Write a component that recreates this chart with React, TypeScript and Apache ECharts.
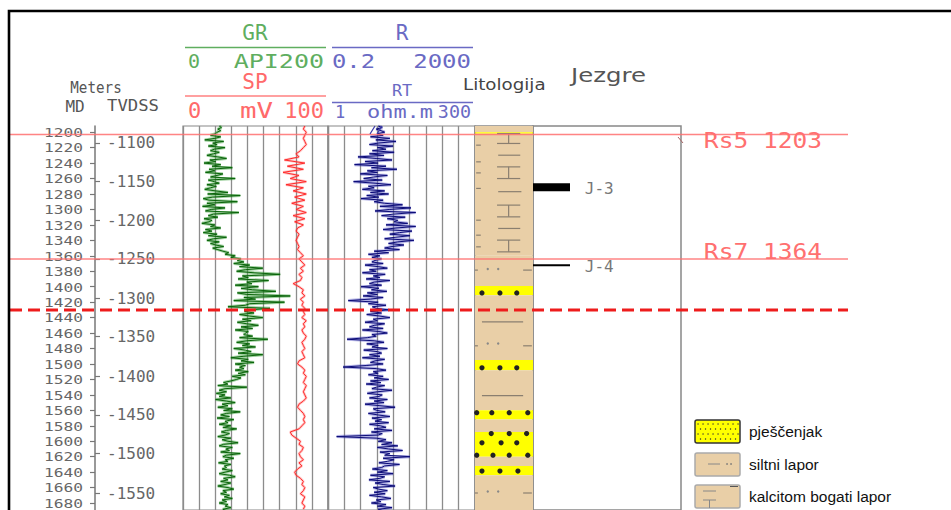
import React, { useEffect, useRef } from "react";
import * as echarts from "echarts";

// ---------- depth frame ----------
const DEPTH_MIN = 1192;
const DEPTH_MAX = 1689;

const mdTicks = [1200, 1220, 1240, 1260, 1280, 1300, 1320, 1340, 1360, 1380, 1400, 1420, 1440, 1460, 1480, 1500, 1520, 1540, 1560, 1580, 1600, 1620, 1640, 1660, 1680];
const tvdssLabels = [-1100, -1150, -1200, -1250, -1300, -1350, -1400, -1450, -1500, -1550];
const tvdssMd = [1214, 1264, 1314, 1364, 1415, 1464, 1516, 1566, 1616, 1667];

// ---------- log curves (sampled from 1192 m) ----------
const LOG_START = 1192;
const GR_STEP = 2;
const grApi = [
  50, 53, 48, 52, 47, 45,
  38, 52, 44, 30, 56, 41, 47, 35, 58, 43, 38, 50,
  42, 33, 48, 60, 37, 45, 29, 52, 40, 68, 36, 44, 31, 55, 47, 38, 72, 35, 43, 50, 33, 46,
  38, 30, 45, 62, 34, 79, 41, 28, 36, 75, 33, 44, 27, 58, 39, 31, 77, 42, 35, 48, 29, 40,
  36, 26, 44, 38, 52, 31, 40, 28, 47, 35, 60, 42, 33, 50, 38, 45, 56, 41, 48,
  55, 63, 58, 72, 66, 80, 75,
  84, 70, 92, 78, 110, 86, 74, 98, 134, 82, 90, 76, 118, 88, 95, 72, 104,
  80, 96, 128, 75, 88, 148, 84, 100, 70, 140, 92, 86, 62, 120, 90,
  85, 98, 78, 92, 110, 82, 94, 75, 88, 104, 80, 96, 72, 90, 86,
  84, 96, 78, 117, 88, 74, 92, 82, 100, 70, 86, 94, 76, 110, 84, 66, 90, 80, 98, 72, 86, 78,
  84, 72, 90, 76, 86, 68, 80, 74,
  66, 56, 62, 48, 88, 58, 50, 60, 46,
  58, 50, 66, 45, 60, 72, 54, 62, 48, 68, 56, 79, 60, 52, 64, 47, 70, 58, 62, 50, 66, 55, 74, 60, 53, 64,
  58, 48, 66, 54, 62, 76, 56, 50, 68, 59, 64, 52, 79, 60, 55, 70, 58, 62, 49, 66, 57,
  60, 54, 68, 58, 50, 64, 72, 56, 62, 52, 66, 58, 48, 62, 70, 55, 60, 52, 64, 57, 68, 54, 60, 50, 62, 58, 66, 55, 60,
];

const SP_STEP = 4;
const spMv = [
  84, 83, 85, 84, 83, 84, 85, 83,
  81, 78, 80,
  70, 84, 72, 83, 69, 80, 74, 85, 71,
  83, 76, 85, 77, 84, 75, 83, 78, 85, 76, 84, 77, 83,
  79, 78, 80, 79, 78, 79, 80, 79,
  81, 83, 80, 82, 84, 81, 83, 80, 82, 81,
  76, 80,
  83, 82, 84, 81, 83, 82, 84,
  83, 84, 82, 85, 83, 84, 82, 83, 85, 84, 82, 83, 84, 82, 83, 84, 80,
  79, 82,
  84, 83, 85, 84, 83, 85, 84, 83, 84, 85, 83,
  80, 79, 81, 83, 84,
  83, 84, 82, 80,
  74, 75, 78,
  81, 80, 83, 82, 80, 81, 83, 80, 82,
  79, 77, 78, 81,
  83, 82, 84, 83, 81, 84, 83, 82, 84, 83,
];

const RT_STEP = 2;
const rtOhm = [
  7.0, 8.2, 6.5, 7.8, 9.0, 6.8,
  8.5, 5.2, 11.0, 6.4, 14.0, 7.2, 5.0, 12.5, 6.8, 9.5, 5.6, 13.0,
  5.0, 8.8, 3.2, 6.5, 12.0, 4.2, 7.0, 2.8, 9.5, 5.4, 14.5, 4.6, 6.8, 3.5, 10.0, 5.8, 4.0, 8.2, 2.7, 6.2, 11.5, 4.8,
  6.0, 3.8, 9.0, 5.2, 10.5, 4.5, 7.2, 3.6, 8.5, 6.0,
  9.0, 18.0, 7.5, 25.0, 11.0, 6.2, 30.0, 12.5, 8.0, 20.0, 10.0, 15.0,
  13.0, 22.0, 9.5, 30.0, 14.0, 8.5, 26.0, 16.0, 11.0, 24.0, 13.5, 9.0, 28.0, 15.0, 10.5, 19.0, 12.0,
  9.0, 16.0, 6.0, 10.5, 4.8, 7.5, 5.5, 8.0, 6.2,
  5.5, 8.5, 4.2, 7.0, 10.0, 5.0, 6.5, 3.8, 9.2, 5.8, 7.5, 4.4, 11.0, 6.0, 5.0, 8.0, 3.6, 7.2, 5.4, 9.8, 4.6, 6.8, 3.9, 8.5, 5.2, 2.2, 7.0, 4.8, 9.5, 5.6,
  6.5, 10.5, 5.2, 8.0, 4.5, 7.5, 11.0, 5.8, 6.8, 4.2, 9.0, 6.0, 5.0, 8.5, 3.8, 7.2, 10.0, 5.5, 6.5, 4.6, 2.1,
  6.0, 8.8, 4.5, 7.0, 5.5, 10.0, 4.0, 6.8, 8.0, 5.0, 7.5, 3.8, 9.0, 6.2, 5.2, 8.5, 4.4, 1.8, 6.5, 9.5, 5.8,
  7.0, 4.8, 8.5, 6.0, 10.5, 5.2, 7.8, 4.4, 9.0, 6.5, 5.5, 12.0, 6.8, 4.6, 8.2, 7.2, 5.0, 10.0, 6.0, 8.8, 4.2, 7.5, 13.5, 5.8, 6.6, 9.2, 4.8, 7.0, 11.0, 5.5, 8.0, 6.2, 10.5, 5.0, 7.6, 9.5, 6.0, 12.0, 5.4, 8.2, 7.0,
  1.4,
  6.5, 9.5, 7.0, 12.0, 8.0, 15.0, 6.8, 10.5, 18.0, 7.5, 11.0, 9.0, 24.0, 8.5, 13.0, 10.0, 7.2, 16.0, 9.0,
  8.0, 5.6, 10.0, 6.8, 12.5, 5.2, 9.0, 7.5, 4.9, 11.0, 6.2, 8.5, 13.5, 5.8, 7.2, 10.0, 6.0, 9.2, 5.0, 8.0, 11.5, 6.5, 7.8, 5.4, 9.5, 6.8, 12.0, 7.0, 8.5,
];

// ---------- formation tops ----------
const topNames = ["Rs5 1203", "Rs7 1364"];
const topDepths = [1203, 1364];
const contactDepths = [1430];

// ---------- lithology (0 pješčenjak, 1 siltni lapor, 2 kalcitom bogati lapor) ----------
const litTop = [1192, 1200, 1202, 1360, 1399, 1411, 1495, 1508, 1560, 1572, 1588, 1620, 1632, 1644];
const litBottom = [1200, 1202, 1360, 1399, 1411, 1495, 1508, 1560, 1572, 1588, 1620, 1632, 1644, 1690];
const litType = [2, 0, 2, 1, 0, 1, 0, 1, 0, 1, 0, 1, 0, 1];

// symbol marks: [depth, x from, x to] (track fraction)
const litLines = [
  [1201.7, 0.38, 0.78], [1214.6, 0.38, 0.78], [1229.8, 0.4, 0.78], [1244.9, 0.38, 0.78], [1260, 0.38, 0.78],
  [1277, 0.4, 0.8], [1294.4, 0.38, 0.78], [1309.6, 0.38, 0.78], [1324.6, 0.4, 0.78], [1339.7, 0.38, 0.78], [1354.9, 0.38, 0.78],
  [1216.8, 0.02, 0.1], [1238.4, 0.02, 0.1], [1252.7, 0.02, 0.1], [1272.8, 0.02, 0.1], [1313.9, 0.02, 0.1], [1333.3, 0.02, 0.1], [1348.4, 0.02, 0.1],
  [1378.5, 0.0, 0.05], [1476.5, 0.0, 0.05], [1667, 0.0, 0.05],
  [1445.5, 0.12, 0.83], [1541, 0.12, 0.83],
  [1378.5, 0.83, 0.98], [1476.5, 0.83, 0.98], [1667, 0.83, 0.98],
];
// [depth from, depth to, x]
const litStems = [[1201.7, 1214.6, 0.58], [1244.9, 1260, 0.58], [1294.4, 1309.6, 0.58], [1339.7, 1354.9, 0.58]];
const siltDots = [[1377, 0.22], [1377, 0.4], [1473.5, 0.22], [1473.5, 0.4], [1665, 0.22], [1665, 0.4]];
const sandDots = [
  [1408, 0.12], [1408, 0.43], [1408, 0.72],
  [1505, 0.12], [1505, 0.43], [1505, 0.72],
  [1563, 0.03], [1563, 0.29], [1563, 0.59], [1563, 0.91],
  [1590, 0.28], [1590, 0.59], [1590, 0.89],
  [1602, 0.12], [1602, 0.45], [1602, 0.72],
  [1618, 0.03], [1618, 0.31], [1618, 0.59], [1618, 0.91],
  [1638.6, 0.12], [1638.6, 0.43], [1638.6, 0.74],
];

// ---------- cores ----------
const coreNames = ["J-3", "J-4"];
const coreTop = [1266, 1371];
const coreBottom = [1276.5, 1373.5];

// ---------- legend ----------
const legendNames = ["pješčenjak", "siltni lapor", "kalcitom bogati lapor"];

const MONO = '"DejaVu Sans Mono", monospace';
const SANS = '"DejaVu Sans", sans-serif';
const TAN = "#e9cfa7";
const YELLOW = "#ffff00";
const GREEN_T = "#5fae5f";
const RED_T = "#ff6a6a";
const BLUE_T = "#6a6ac4";

function txt(text: string, x: number, y: number, color: string, size: number, align: string, sx = 1, family = MONO) {
  return {
    type: "text", x, y, scaleX: sx, z: 20,
    style: { text, fill: color, fontSize: size, fontFamily: family, align, textAlign: align, verticalAlign: "middle", textVerticalAlign: "middle" },
  };
}
function ln(x1: number, y1: number, x2: number, y2: number, color: string, w = 1.5) {
  return { type: "line", z: 20, shape: { x1, y1, x2, y2 }, style: { stroke: color, lineWidth: w } };
}

function buildGraphic() {
  const g: any[] = [];
  g.push({ type: "polyline", z: 20, shape: { points: [[9, 515], [9, 11], [960, 11]] }, style: { stroke: "#000", lineWidth: 2.6, fill: null } });
  // header GR / SP
  g.push(txt("GR", 255, 33, GREEN_T, 21, "center"));
  g.push(ln(185, 47.5, 326, 47.5, GREEN_T));
  g.push(txt("0", 188, 61, GREEN_T, 20, "left"));
  g.push(txt("API200", 324, 61, GREEN_T, 20, "right", 1.25));
  g.push(txt("SP", 255, 82, RED_T, 21, "center"));
  g.push(ln(185, 96, 326, 96, "#ff8080"));
  g.push(txt("0", 188, 110, RED_T, 22, "left"));
  g.push(txt("mV", 240, 110, RED_T, 22, "left", 1.25));
  g.push(txt("100", 324, 110, RED_T, 22, "right"));
  // header R / RT
  g.push(txt("R", 402, 33, BLUE_T, 21, "center"));
  g.push(ln(332, 47.5, 473, 47.5, BLUE_T));
  g.push(txt("0.2", 332, 61, BLUE_T, 20, "left", 1.19));
  g.push(txt("2000", 471, 61, BLUE_T, 20, "right", 1.2));
  g.push(txt("RT", 402, 91, BLUE_T, 16, "center", 1.05));
  g.push(ln(332, 102.5, 473, 102.5, BLUE_T));
  g.push(txt("1", 335, 112, BLUE_T, 17, "left"));
  g.push(txt("ohm.m", 367, 112, BLUE_T, 17, "left", 1.29));
  g.push(txt("300", 471, 112, BLUE_T, 17, "right", 1.08));
  // depth header
  g.push(txt("Meters", 96, 87, "#555", 15, "center", 0.95));
  g.push(txt("MD", 75, 106, "#555", 16, "center"));
  g.push(txt("TVDSS", 107, 106, "#555", 16, "left", 1.08));
  g.push(txt("Litologija", 463, 84, "#444", 16, "left", 1.14, SANS));
  g.push(txt("Jezgre", 571, 75, "#555", 20, "left", 1.22, SANS));
  // small marks
  g.push(ln(370, 134, 375, 126, "#3a3aa8", 1.2));
  g.push(ln(377, 134, 382, 126, "#3a3aa8", 1.2));
  g.push(ln(678, 137, 683, 143, "#a66", 1));
  // legend
  const ly = [420, 453, 485];
  ly.forEach((y, i) => {
    g.push({
      type: "rect", z: 20, shape: { x: 695, y, width: 45, height: 23, r: 2 },
      style: { fill: i === 0 ? YELLOW : TAN, stroke: i === 0 ? "#333" : "#aaa", lineWidth: 1.5 },
    });
    g.push(txt(legendNames[i], 749, y + 11, "#111", 15.5, "left", 1, '"Liberation Sans", sans-serif'));
  });
  for (let r = 0; r < 4; r++) {
    for (let x = 698 + (r % 2) * 2.5; x < 739; x += 5) {
      g.push({ type: "circle", z: 21, shape: { cx: x, cy: 424 + r * 5, r: 0.7 }, style: { fill: "#333" } });
    }
  }
  g.push(ln(708, 464, 720, 464, "#888", 1));
  g.push({ type: "circle", z: 21, shape: { cx: 727, cy: 464, r: 0.8 }, style: { fill: "#777" } });
  g.push({ type: "circle", z: 21, shape: { cx: 731, cy: 464, r: 0.8 }, style: { fill: "#777" } });
  g.push(ln(703, 491, 716, 491, "#888", 1));
  g.push(ln(703, 500, 716, 500, "#888", 1));
  g.push(ln(709.5, 500, 709.5, 508, "#888", 1));
  g.push(ln(730, 486.5, 738, 486.5, "#555", 1));
  return g;
}

function buildOption() {
  const top = 126;
  const height = 384;
  const yBase = { type: "value", inverse: true, min: DEPTH_MIN, max: DEPTH_MAX };
  const hiddenY = (gridIndex: number) => ({ ...yBase, gridIndex, show: false });
  const gridLinesX = (gridIndex: number) => ({
    type: "value", gridIndex, min: 0, max: 9, interval: 1,
    axisLine: { show: false }, axisTick: { show: false }, axisLabel: { show: false },
    splitLine: { show: true, lineStyle: { color: "#8c8c8c", width: 1.3 } },
  });
  const hiddenX = (gridIndex: number, min: number, max: number, type = "value") => ({ type, gridIndex, min, max, show: false });

  const grData = grApi.map((v, i) => [v, LOG_START + i * GR_STEP]);
  const spData = spMv.map((v, i) => [v, LOG_START + i * SP_STEP]);
  const rtData = rtOhm.map((v, i) => [v, LOG_START + i * RT_STEP]);

  const lineSeries = (data: number[][], xi: number, yi: number, color: string, w: number, z: number) => ({
    type: "line", xAxisIndex: xi, yAxisIndex: yi, data, showSymbol: false, symbol: "none", silent: true, z,
    lineStyle: { color, width: w }, animation: false,
  });
  const gridBase = { top, height, containLabel: false, outerBoundsMode: "none" };

  return {
    animation: false,
    backgroundColor: "#ffffff",
    grid: [
      { ...gridBase, left: 95, width: 88 },
      { ...gridBase, left: 183, width: 145, show: true, borderColor: "#888", borderWidth: 1.2 },
      { ...gridBase, left: 328, width: 147, show: true, borderColor: "#888", borderWidth: 1.2 },
      { ...gridBase, left: 475, width: 58, show: true, borderColor: "#888", borderWidth: 1.5 },
      { ...gridBase, left: 533, width: 148, show: true, borderColor: "#888", borderWidth: 1.5 },
      { ...gridBase, left: 10, width: 838 },
    ],
    xAxis: [
      hiddenX(0, 0, 1),
      gridLinesX(1),
      hiddenX(1, 0, 200),
      hiddenX(1, 0, 100),
      gridLinesX(2),
      { type: "log", gridIndex: 2, min: 1, max: 300, logBase: 10, show: false },
      hiddenX(3, 0, 1),
      hiddenX(4, 0, 1),
      hiddenX(5, 0, 1),
    ],
    yAxis: [
      {
        ...yBase, gridIndex: 0, position: "left",
        axisLine: { show: true, lineStyle: { color: "#777", width: 1.5 } },
        axisTick: { show: true, length: 5, customValues: mdTicks, lineStyle: { color: "#777", width: 1.2 } },
        axisLabel: { show: false },
        splitLine: { show: false },
      },
      {
        ...yBase, gridIndex: 0, position: "left",
        axisLine: { show: false },
        axisTick: { show: true, inside: true, length: 5, customValues: tvdssMd, lineStyle: { color: "#777", width: 1.2 } },
        axisLabel: {
          inside: true, margin: 12, customValues: tvdssMd, color: "#666", fontFamily: MONO, fontSize: 16, lineHeight: 16,
          showMinLabel: true, showMaxLabel: true, hideOverlap: false,
          formatter: (v: number) => {
            const i = tvdssMd.indexOf(Math.round(v));
            return i >= 0 ? String(tvdssLabels[i]) : "";
          },
        },
        splitLine: { show: false },
      },
      hiddenY(1),
      hiddenY(2),
      hiddenY(3),
      hiddenY(4),
      hiddenY(5),
    ],
    series: [
      // MD labels (wide, compact digits like the plotter font)
      {
        type: "custom", xAxisIndex: 0, yAxisIndex: 0, z: 5, silent: true, clip: false,
        data: mdTicks.map((d) => [0, d]),
        renderItem: (params: any, api: any) => {
          const c = api.coord([0, api.value(1)]);
          return {
            type: "text", x: c[0] - 12, y: c[1] + 0.5, scaleX: 1.3,
            style: { text: String(api.value(1)), fill: "#666", fontSize: 12.5, fontFamily: MONO, align: "right", textAlign: "right", verticalAlign: "middle", textVerticalAlign: "middle" },
          };
        },
      },
      // GR
      lineSeries(grData, 2, 2, "rgba(40,150,40,0.45)", 3, 3),
      lineSeries(grData, 2, 2, "#0a640a", 1, 4),
      // SP
      lineSeries(spData, 3, 2, "rgba(255,90,90,0.35)", 2.6, 3),
      lineSeries(spData, 3, 2, "#ff2a2a", 1, 4),
      // RT
      lineSeries(rtData, 5, 3, "rgba(70,70,190,0.42)", 3, 3),
      lineSeries(rtData, 5, 3, "#0c0c78", 1, 4),
      // lithology fills
      {
        type: "custom", xAxisIndex: 6, yAxisIndex: 4, z: 2, silent: true, clip: true,
        data: litTop.map((t, i) => [t, litBottom[i], litType[i]]),
        renderItem: (params: any, api: any) => {
          const p1 = api.coord([0, api.value(0)]);
          const p2 = api.coord([1, api.value(1)]);
          return {
            type: "rect",
            shape: { x: p1[0], y: p1[1], width: p2[0] - p1[0], height: p2[1] - p1[1] },
            style: { fill: api.value(2) === 0 ? YELLOW : TAN },
          };
        },
      },
      {
        type: "custom", xAxisIndex: 6, yAxisIndex: 4, z: 3, silent: true,
        data: litLines,
        renderItem: (params: any, api: any) => {
          const a = api.coord([api.value(1), api.value(0)]);
          const b = api.coord([api.value(2), api.value(0)]);
          return { type: "line", shape: { x1: a[0], y1: a[1], x2: b[0], y2: b[1] }, style: { stroke: "#8a7f70", lineWidth: 1.2 } };
        },
      },
      {
        type: "custom", xAxisIndex: 6, yAxisIndex: 4, z: 3, silent: true,
        data: litStems,
        renderItem: (params: any, api: any) => {
          const a = api.coord([api.value(2), api.value(0)]);
          const b = api.coord([api.value(2), api.value(1)]);
          return { type: "line", shape: { x1: a[0], y1: a[1], x2: b[0], y2: b[1] }, style: { stroke: "#8a7f70", lineWidth: 1.2 } };
        },
      },
      {
        type: "custom", xAxisIndex: 6, yAxisIndex: 4, z: 3, silent: true,
        data: siltDots,
        renderItem: (params: any, api: any) => {
          const c = api.coord([api.value(1), api.value(0)]);
          return { type: "circle", shape: { cx: c[0], cy: c[1], r: 1.2 }, style: { fill: "#888" } };
        },
      },
      {
        type: "custom", xAxisIndex: 6, yAxisIndex: 4, z: 3, silent: true,
        data: sandDots,
        renderItem: (params: any, api: any) => {
          const c = api.coord([api.value(1), api.value(0)]);
          return { type: "circle", shape: { cx: c[0], cy: c[1], r: 2.6 }, style: { fill: "#222" } };
        },
      },
      // cores
      {
        type: "custom", xAxisIndex: 7, yAxisIndex: 5, z: 4, silent: true,
        data: coreTop.map((t, i) => [t, coreBottom[i], i]),
        renderItem: (params: any, api: any) => {
          const i = api.value(2);
          const p1 = api.coord([0, api.value(0)]);
          const p2 = api.coord([0.25, api.value(1)]);
          const tp = api.coord([0.35, (api.value(0) + api.value(1)) / 2]);
          return {
            type: "group",
            children: [
              { type: "rect", shape: { x: p1[0], y: p1[1], width: p2[0] - p1[0], height: p2[1] - p1[1] }, style: { fill: "#000" } },
              {
                type: "text", x: tp[0], y: tp[1] + 1,
                style: { text: coreNames[i], fill: "#777", fontSize: 16, fontFamily: MONO, align: "left", textAlign: "left", verticalAlign: "middle", textVerticalAlign: "middle" },
              },
            ],
          };
        },
      },
      // formation tops
      {
        type: "custom", xAxisIndex: 8, yAxisIndex: 6, z: 10, silent: true, clip: false,
        data: topDepths.map((d, i) => [0, d, i]),
        renderItem: (params: any, api: any) => {
          const d = api.value(1);
          const i = api.value(2);
          const a = api.coord([0, d]);
          const b = api.coord([1, d]);
          const t = api.coord([0.828, d]);
          const dy = i === 0 ? 6 : -7.5;
          return {
            type: "group",
            children: [
              { type: "line", shape: { x1: a[0], y1: a[1], x2: b[0], y2: b[1] }, style: { stroke: "rgba(255,110,110,0.85)", lineWidth: 1.5 } },
              {
                type: "text", x: t[0], y: t[1] + dy, scaleX: 1.17,
                style: { text: topNames[i], fill: "#ff7070", fontSize: 21, fontFamily: MONO, align: "left", textAlign: "left", verticalAlign: "middle", textVerticalAlign: "middle" },
              },
            ],
          };
        },
      },
      {
        type: "custom", xAxisIndex: 8, yAxisIndex: 6, z: 11, silent: true, clip: false,
        data: contactDepths.map((d) => [0, d]),
        renderItem: (params: any, api: any) => {
          const a = api.coord([0, api.value(1)]);
          const b = api.coord([1, api.value(1)]);
          return { type: "line", shape: { x1: a[0], y1: a[1], x2: b[0], y2: b[1] }, style: { stroke: "#ee1c1c", lineWidth: 3, lineDash: [12, 6] } };
        },
      },
    ],
    graphic: buildGraphic(),
  };
}

export default function App() {
  const ref = useRef<HTMLDivElement>(null);
  useEffect(() => {
    if (!ref.current) return;
    const chart = echarts.init(ref.current, null, { renderer: "svg" });
    chart.setOption(buildOption() as any);
    return () => chart.dispose();
  }, []);
  return <div ref={ref} style={{ position: "absolute", left: 0, top: 0, width: 951, height: 510, background: "#fff" }} />;
}
